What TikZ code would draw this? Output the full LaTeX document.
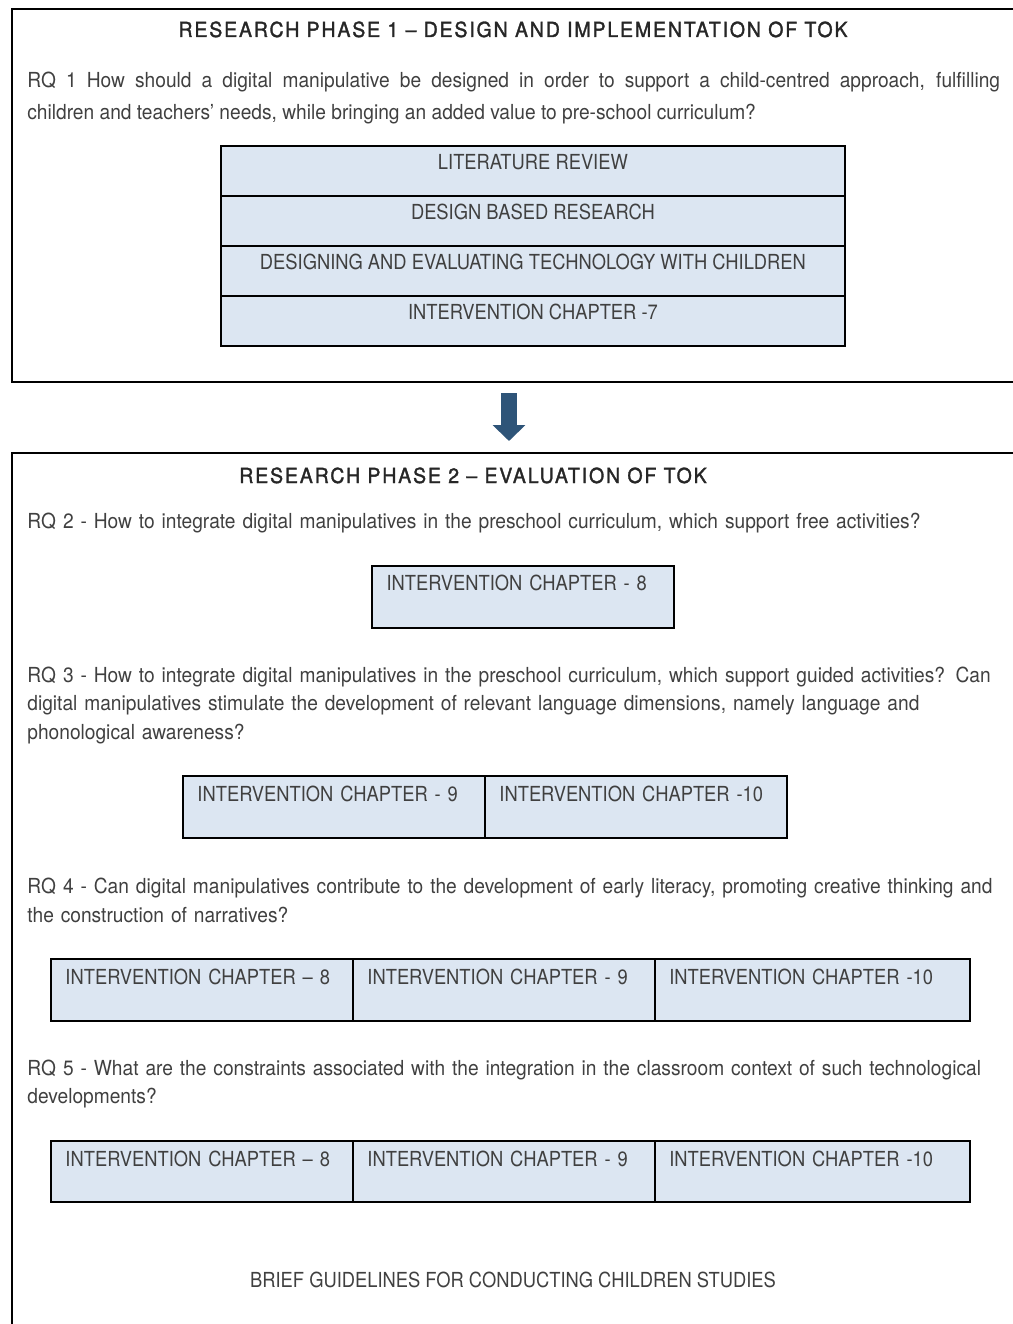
\documentclass[tikz,border=0pt]{standalone}
\usepackage{fontspec}
\setmainfont{TeX Gyre Heros}[FakeStretch=0.925]
\newfontfamily\capsfont{TeX Gyre Heros}[FakeStretch=0.885]
\newfontfamily\headfont{TeX Gyre Heros}[FakeStretch=0.94,FakeBold=1.6,LetterSpace=9]
\usepackage{xcolor}
\usetikzlibrary{arrows.meta,positioning,calc}
\definecolor{cellfill}{HTML}{DCE6F2}
\definecolor{ink}{HTML}{404040}
\definecolor{headink}{HTML}{262626}
\definecolor{arrowblue}{HTML}{2E5478}

\begin{document}
\begin{tikzpicture}[x=0.02cm,y=-0.02cm,
  frame/.style={rectangle,draw=black,line width=1.15pt,outer sep=0pt,
                anchor=north west,inner sep=0pt},
  head/.style={font=\headfont\fontsize{11.8}{14}\selectfont,text=headink,
               anchor=base,inner sep=0pt},
  para/.style={anchor=base west,inner sep=0pt,text=ink,align=left,
               text width=19.46cm},
  stackcell/.style={rectangle,draw=black,line width=1.1pt,fill=cellfill,
              outer sep=0pt,inner ysep=0pt,minimum width=12.48cm,
              text height=0.48cm,text depth=0.52cm,text=ink,
              font=\capsfont\fontsize{11.8}{14}\selectfont},
  cell/.style={rectangle,draw=black,line width=1.1pt,fill=cellfill,
              outer sep=0pt,inner xsep=0.29cm,inner ysep=0pt,
              text width=5.46cm,align=left,
              text height=0.5cm,text depth=0.74cm,text=ink,
              font=\capsfont\fontsize{11.8}{14}\selectfont},
  arr/.style={-{Triangle[width=0.64cm,length=0.32cm]},line width=0.32cm,
              draw=arrowblue}]
\useasboundingbox (0,0) rectangle (1012,1324);
%%
%% Phase frames (open to the right / bottom of the page)
\node[frame,minimum width=20.6cm,minimum height=7.46cm] (phase1) at (12,9) {};
\node[frame,minimum width=20.6cm,minimum height=18.0cm] (phase2) at (12,453) {};
%%
%% Phase 1
\node[head] (title1) at (513,37) {RESEARCH PHASE 1 – DESIGN AND IMPLEMENTATION OF TOK};
\node[para,align=justify,font=\fontsize{11.8}{18.14}\selectfont] (rq1) at (27,87.5)
  {RQ 1 How should a digital manipulative be designed in order to support a child-centred approach, fulfilling\linebreak
   children and teachers’ needs, while bringing an added value to pre-school curriculum?};
\node[stackcell,anchor=north west] (litrev) at (221,146) {LITERATURE REVIEW};
\node[stackcell,below=0pt of litrev] (dbr)  {DESIGN BASED RESEARCH};
\node[stackcell,below=0pt of dbr]    (dtech) {DESIGNING AND EVALUATING TECHNOLOGY WITH CHILDREN};
\node[stackcell,below=0pt of dtech]  (ch7)  {INTERVENTION CHAPTER -7};
%%
%% Arrow between phases
\coordinate (arrtop) at (509,393);
\draw[arr] (arrtop) -- (arrtop |- phase2.north) [shorten >=0.24cm];
%%
%% Phase 2
\node[head] (title2) at (473,483) {RESEARCH PHASE 2 – EVALUATION OF TOK};
\node[para,font=\fontsize{11.8}{14}\selectfont] (rq2) at (27,528.5)
  {RQ 2 - How to integrate digital manipulatives in the preschool curriculum, which support free activities?};
\node[cell,anchor=north west] (rqtwo8) at (372,566) {INTERVENTION CHAPTER - 8};
%%
\node[para,font=\fontsize{11.8}{16.16}\selectfont] (rq3) at (27,682.5)
  {RQ 3 - How to integrate digital manipulatives in the preschool curriculum, which support guided activities? Can\\
   digital manipulatives stimulate the development of relevant language dimensions, namely language and\\
   phonological awareness?};
\node[cell,anchor=north west] (rqthree9) at (183,776) {INTERVENTION CHAPTER - 9};
\node[cell,right=0pt of rqthree9] (rqthree10) {INTERVENTION CHAPTER -10};
%%
\node[para,font=\fontsize{11.8}{16.44}\selectfont] (rq4) at (27,893.5)
  {RQ 4 - Can digital manipulatives contribute to the development of early literacy, promoting creative thinking and\\
   the construction of narratives?};
\node[cell,anchor=north west] (rqfour8) at (51,959) {INTERVENTION CHAPTER – 8};
\node[cell,right=0pt of rqfour8]  (rqfour9)  {INTERVENTION CHAPTER - 9};
\node[cell,right=0pt of rqfour9,text width=5.72cm] (rqfour10) {INTERVENTION CHAPTER -10};
%%
\node[para,font=\fontsize{11.8}{15.87}\selectfont] (rq5) at (27,1075.5)
  {RQ 5 - What are the constraints associated with the integration in the classroom context of such technological\\
   developments?};
\node[cell,anchor=north west,text depth=0.72cm] (rqfive8) at (51,1141) {INTERVENTION CHAPTER – 8};
\node[cell,right=0pt of rqfive8,text depth=0.72cm]  (rqfive9)  {INTERVENTION CHAPTER - 9};
\node[cell,right=0pt of rqfive9,text depth=0.72cm,text width=5.72cm] (rqfive10) {INTERVENTION CHAPTER -10};
%%
\node[anchor=base,inner sep=0pt,text=ink,font=\capsfont\fontsize{11.8}{14}\selectfont] (guide) at (513,1287.5)
  {BRIEF GUIDELINES FOR CONDUCTING CHILDREN STUDIES};
\end{tikzpicture}
\end{document}
